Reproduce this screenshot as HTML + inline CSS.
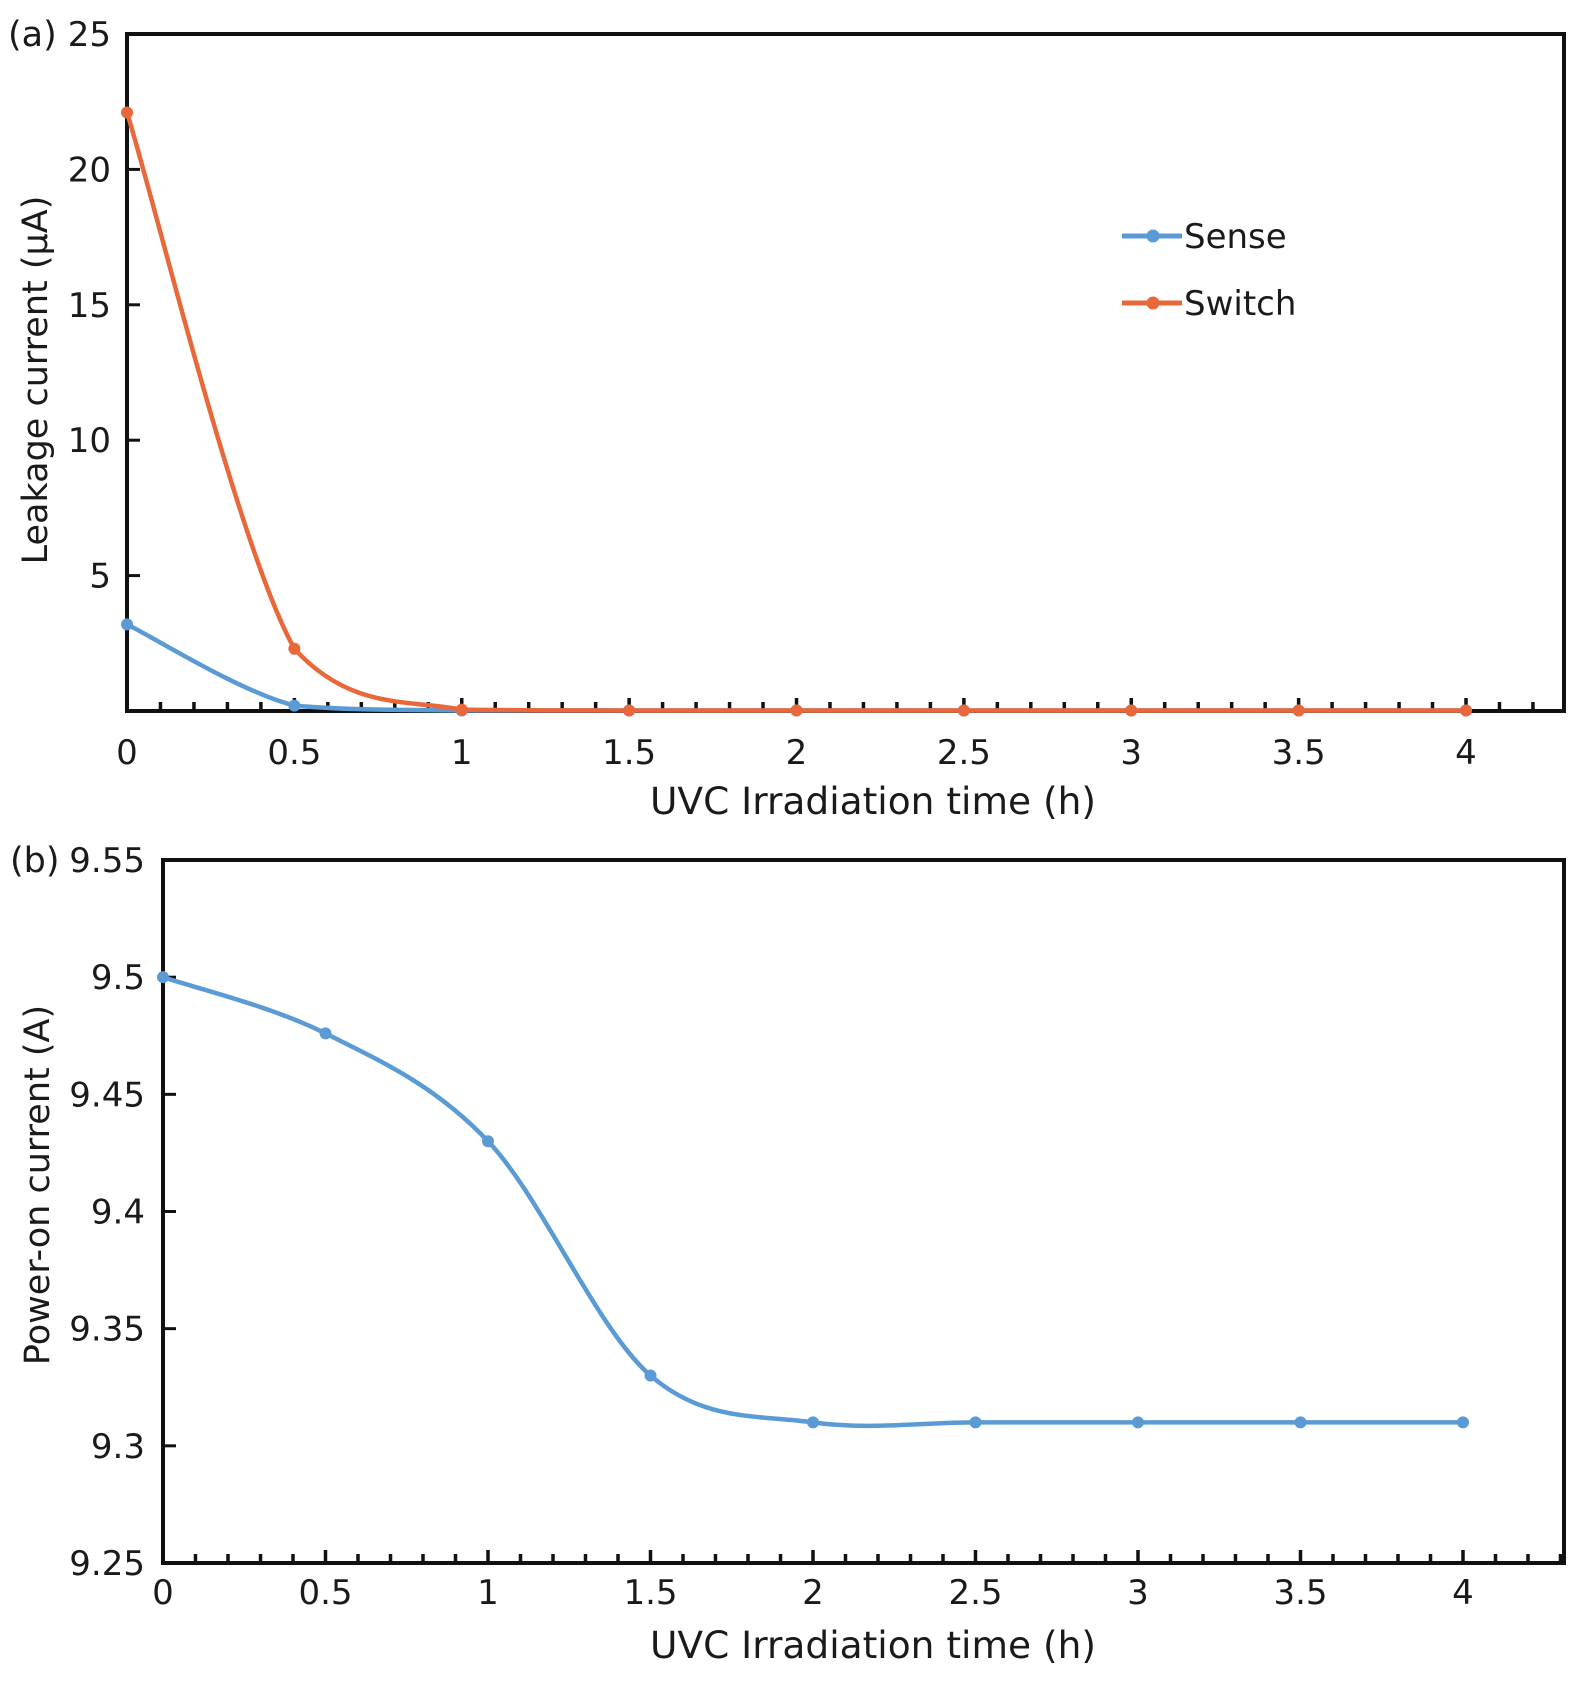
<!DOCTYPE html>
<html><head><meta charset="utf-8"><style>
body{margin:0;background:#fff}
svg text{font-family:"DejaVu Sans","Liberation Sans",sans-serif;fill:#1a1a1a}
</style></head><body>
<svg id="c" width="1575" height="1681" xmlns="http://www.w3.org/2000/svg"></svg>
<script>
const xCats=[0,0.5,1,1.5,2,2.5,3,3.5,4];
const xTickLabels=["0","0.5","1","1.5","2","2.5","3","3.5","4"];
const senseVals=[3.2,0.2,0.02,0.02,0.02,0.02,0.02,0.02,0.02];
const switchVals=[22.1,2.3,0.05,0.02,0.02,0.02,0.02,0.02,0.02];
const aYTicks=[5,10,15,20,25];
const powerVals=[9.5,9.476,9.43,9.33,9.31,9.31,9.31,9.31,9.31];
const bYTicks=[9.25,9.3,9.35,9.4,9.45,9.5,9.55];
const bYLabels=["9.25","9.3","9.35","9.4","9.45","9.5","9.55"];
const NS="http://www.w3.org/2000/svg";
const svg=document.getElementById('c');
function el(t,a,p){const e=document.createElementNS(NS,t);for(const k in a)e.setAttribute(k,a[k]);(p||svg).appendChild(e);return e;}
function smooth(pts,clamp){let d="M"+pts[0][0]+","+pts[0][1];for(let i=0;i<pts.length-1;i++){const p0=pts[i-1]||pts[i],p1=pts[i],p2=pts[i+1],p3=pts[i+2]||p2;const t=0.5/3;
 let c1y=p1[1]+(p2[1]-p0[1])*t,c2y=p2[1]-(p3[1]-p1[1])*t;
 if(clamp){const lo=Math.min(p1[1],p2[1]),hi=Math.max(p1[1],p2[1]);c1y=Math.max(lo,Math.min(hi,c1y));c2y=Math.max(lo,Math.min(hi,c2y));}
d+=" C"+(p1[0]+(p2[0]-p0[0])*t)+","+c1y+" "+(p2[0]-(p3[0]-p1[0])*t)+","+c2y+" "+p2[0]+","+p2[1];}return d;}
function panel(o){
 const g=el('g',{});
 
 
 const X=v=>o.x0+(v-0)/4*(o.x4-o.x0);
 const Y=v=>o.bottom-(v-o.ymin)/(o.ymax-o.ymin)*(o.bottom-o.top);
 const fr=el('rect',{x:o.left,y:o.top,width:o.right-o.left,height:o.bottom-o.top,fill:'none',stroke:'#111','stroke-width':4},g);
 
 for(let i=1;;i++){const xv=i*0.1;const px=X(xv);if(px>=o.right-2)break;const major=i%5==0;
  el('line',{x1:px,x2:px,y1:o.bottom,y2:o.bottom-(major?13:9),stroke:'#111','stroke-width':3.5},g);}
 xCats.forEach((v,i)=>{const t=el('text',{x:X(v),y:o.xly,'text-anchor':'middle','font-size':34},g);t.textContent=xTickLabels[i];
  });
 o.yticks.forEach((v,i)=>{const py=Y(v);el('line',{x1:o.left,x2:o.left+13,y1:py,y2:py,stroke:'#111','stroke-width':3},g);
  const t=el('text',{x:o.ylx,y:py+12,'text-anchor':'end','font-size':34},g);t.textContent=o.ylabels[i];
  });
 const xt=el('text',{x:873,y:o.xty,'text-anchor':'middle','font-size':37.5},g);xt.textContent='UVC Irradiation time (h)';
 
 const yt=el('text',{x:0,y:0,'text-anchor':'middle','font-size':35,transform:`translate(${o.ytx},${o.yty}) rotate(-90)`},g);yt.textContent=o.ytitle;
 
 const pl=el('text',{x:o.plx,y:o.top+12,'font-size':35},g);pl.textContent=o.plabel;
 
 o.series.forEach(s=>{const pts=xCats.map((v,i)=>[X(v),Y(s.vals[i])]);
  const p=el('path',{d:smooth(pts,o.clamp),fill:'none',stroke:s.color,'stroke-width':4.5},g);
  
  pts.forEach(q=>{const c=el('circle',{cx:q[0],cy:q[1],r:6,fill:s.color},g);
   });});
 return g;}
panel({name:'panel-a',clamp:true,left:127,right:1564,top:34,bottom:711,x0:127,x4:1466,ymin:0,ymax:25,yticks:aYTicks,ylabels:aYTicks.map(String),
 ylx:111,xly:764,xty:814,ytitle:'Leakage current (μA)',ytx:47,yty:380,plabel:'(a)',plx:8,
 series:[{name:'sense',vals:senseVals,color:'#5b9bd5'},{name:'switch',vals:switchVals,color:'#e8683a'}]});
panel({name:'panel-b',clamp:false,left:163,right:1564,top:860,bottom:1563,x0:163,x4:1463,ymin:9.25,ymax:9.55,yticks:bYTicks,ylabels:bYLabels,
 ylx:145,xly:1604,xty:1658,ytitle:'Power-on current  (A)',ytx:49,yty:1185,plabel:'(b)',plx:10,
 series:[{name:'power-on',vals:powerVals,color:'#5b9bd5'}]});
[['Sense','#5b9bd5',236],['Switch','#e8683a',303]].forEach(l=>{
 const g=el('g',{});
 
 el('line',{x1:1122,x2:1182,y1:l[2],y2:l[2],stroke:l[1],'stroke-width':5},g);
 el('circle',{cx:1153,cy:l[2],r:6.5,fill:l[1]},g);
 const t=el('text',{x:1184,y:l[2]+12,'font-size':34},g);t.textContent=l[0];});
</script>
</body></html>
